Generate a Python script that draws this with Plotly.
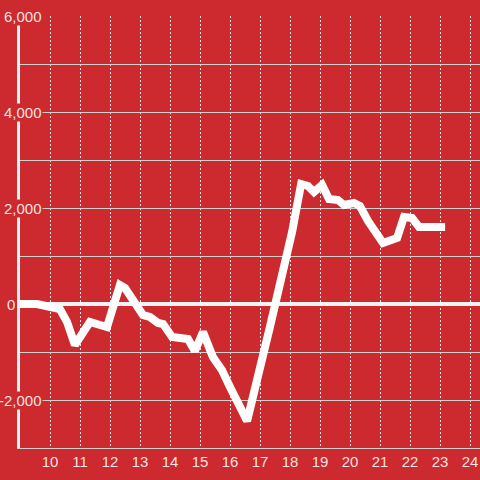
import plotly.graph_objects as go

# Data
x_vals = [9.0, 9.57, 10.33, 10.57, 10.83, 11.33, 11.67, 11.9, 12.33, 12.5,
          13.1, 13.33, 13.6, 13.77, 14.07, 14.33, 14.6, 14.83, 15.1, 15.43,
          15.73, 16.0, 16.57, 17.33, 17.6, 17.83, 18.07, 18.37, 18.6, 18.8,
          19.07, 19.3, 19.6, 19.8, 20.13, 20.33, 20.6, 21.1, 21.57, 21.8,
          22.07, 22.3, 23.17]
y_vals = [0, 0, -104, -375, -854, -375, -437, -479, 396, 333,
          -229, -271, -396, -417, -688, -708, -729, -979, -583, -1104,
          -1375, -1729, -2437, -479, 250, 875, 1500, 2500, 2458, 2333,
          2479, 2188, 2167, 2063, 2104, 2042, 1730, 1271, 1375, 1813,
          1792, 1604, 1604]

x_tick_vals = list(range(10, 25))
x_tick_text = [str(v) for v in x_tick_vals]
y_tick_vals = [6000, 4000, 2000, 0, -2000]
y_tick_text = ["6,000", "4,000", "2,000", "0", "-2,000"]

BG = "#cc2a2e"
LABEL = "rgba(255,255,255,0.88)"

fig = go.Figure()
fig.add_trace(go.Scatter(
    x=x_vals, y=y_vals, mode="lines",
    line=dict(color="white", width=8),
    hoverinfo="skip", showlegend=False,
))

for v, t in zip(y_tick_vals, y_tick_text):
    fig.add_annotation(
        xref="paper", yref="y", x=0, y=v, text=t, showarrow=False,
        xanchor="right", yanchor="middle", xshift=(-4 if v == 0 else 23),
        font=dict(family="Liberation Sans, Arial, sans-serif", size=15, color=LABEL),
        bgcolor=BG, borderpad=0,
    )

fig.update_layout(
    width=480, height=480,
    margin=dict(l=20, r=0, t=16, b=32),
    paper_bgcolor=BG, plot_bgcolor=BG,
    showlegend=False,
    font=dict(family="Liberation Sans, Arial, sans-serif", size=15, color=LABEL),
    xaxis=dict(
        range=[9.0, 24.3333], tickvals=x_tick_vals, ticktext=x_tick_text,
        showgrid=True, gridcolor="#e8e8e8", gridwidth=1, griddash="2px,2px",
        zeroline=False, showline=True, linecolor="#d0d0d0", linewidth=1,
        ticks="", tickfont=dict(size=15, color=LABEL), fixedrange=True,
    ),
    yaxis=dict(
        range=[-3000, 6000], dtick=1000, tick0=0,
        showgrid=True, gridcolor="#d0d0d0", gridwidth=1,
        zeroline=True, zerolinecolor="#f4f4f4", zerolinewidth=4,
        showline=True, linecolor="#f0f0f0", linewidth=3.5,
        showticklabels=False, ticks="", fixedrange=True,
    ),
)

fig.write_html(
    "out.html",
    config={"displayModeBar": False, "staticPlot": True},
    post_script="document.body.style.margin='0';document.body.style.background='%s';" % BG,
)
